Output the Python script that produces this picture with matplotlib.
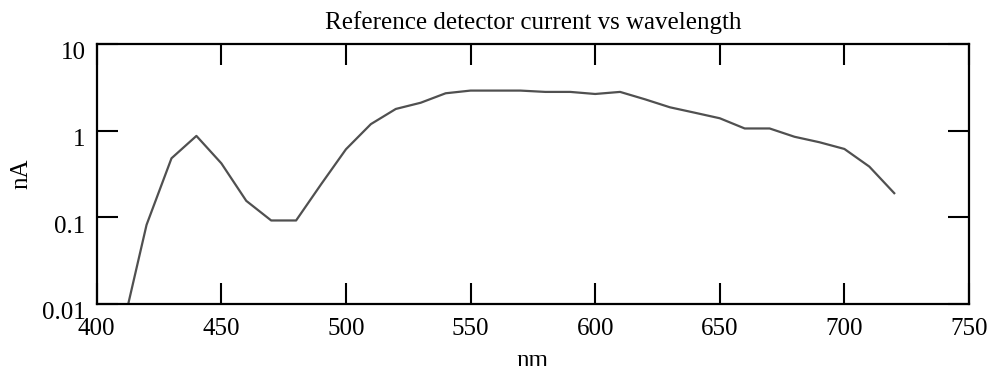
import numpy as np
import matplotlib
matplotlib.use("Agg")
import matplotlib.pyplot as plt
from matplotlib.ticker import FixedLocator, FixedFormatter, NullLocator
from matplotlib.transforms import ScaledTranslation

# wavelength (nm) and reference detector current (nA)
wavelength = [410, 420, 430, 440, 450, 460, 470, 480, 490, 500,
              510, 520, 530, 540, 550, 560, 570, 580, 590, 600,
              610, 620, 630, 640, 650, 660, 670, 680, 690, 700,
              710, 720]
current = [0.0047, 0.082, 0.48, 0.87, 0.42, 0.155, 0.092, 0.092, 0.24, 0.61,
           1.19, 1.78, 2.1, 2.7, 2.9, 2.9, 2.9, 2.8, 2.8, 2.65,
           2.8, 2.3, 1.86, 1.61, 1.39, 1.06, 1.06, 0.85, 0.735, 0.615,
           0.385, 0.19]

y_ticks = [0.01, 0.1, 1, 10]
y_tick_labels = ["0.01", "0.1", "1", "10"]
x_ticks = [400, 450, 500, 550, 600, 650, 700, 750]

plt.rcParams["font.family"] = ["Liberation Serif", "DejaVu Serif"]
fs = 18

fig = plt.figure(figsize=(9.9, 3.66), dpi=100)
ax = fig.add_axes([0.0977, 0.1694, 0.8811, 0.7104])

ax.plot(wavelength, current, color="#505050", linewidth=1.6)

ax.set_yscale("log")
ax.set_xlim(400, 750)
ax.set_ylim(0.01, 10)

ax.yaxis.set_major_locator(FixedLocator(y_ticks))
ax.yaxis.set_major_formatter(FixedFormatter(y_tick_labels))
ax.yaxis.set_minor_locator(NullLocator())
ax.set_xticks(x_ticks)

ax.tick_params(which="major", direction="in", length=15, width=1.5,
               top=True, right=True, labelsize=fs)
ax.tick_params(axis="y", pad=8)
ax.tick_params(axis="x", pad=10)
for s in ax.spines.values():
    s.set_linewidth(1.6)

# y tick labels sit a bit below their ticks in the original
shift = ScaledTranslation(0, -7 / 100, fig.dpi_scale_trans)
for lab in ax.get_yticklabels():
    lab.set_transform(lab.get_transform() + shift)

ax.set_title("Reference detector current vs wavelength", fontsize=fs, pad=11)
ax.set_xlabel("nm", fontsize=fs, labelpad=7)
ax.set_ylabel("nA", fontsize=fs)
ax.yaxis.set_label_coords(-0.074, 0.5)

fig.savefig("out.png", dpi=100)
